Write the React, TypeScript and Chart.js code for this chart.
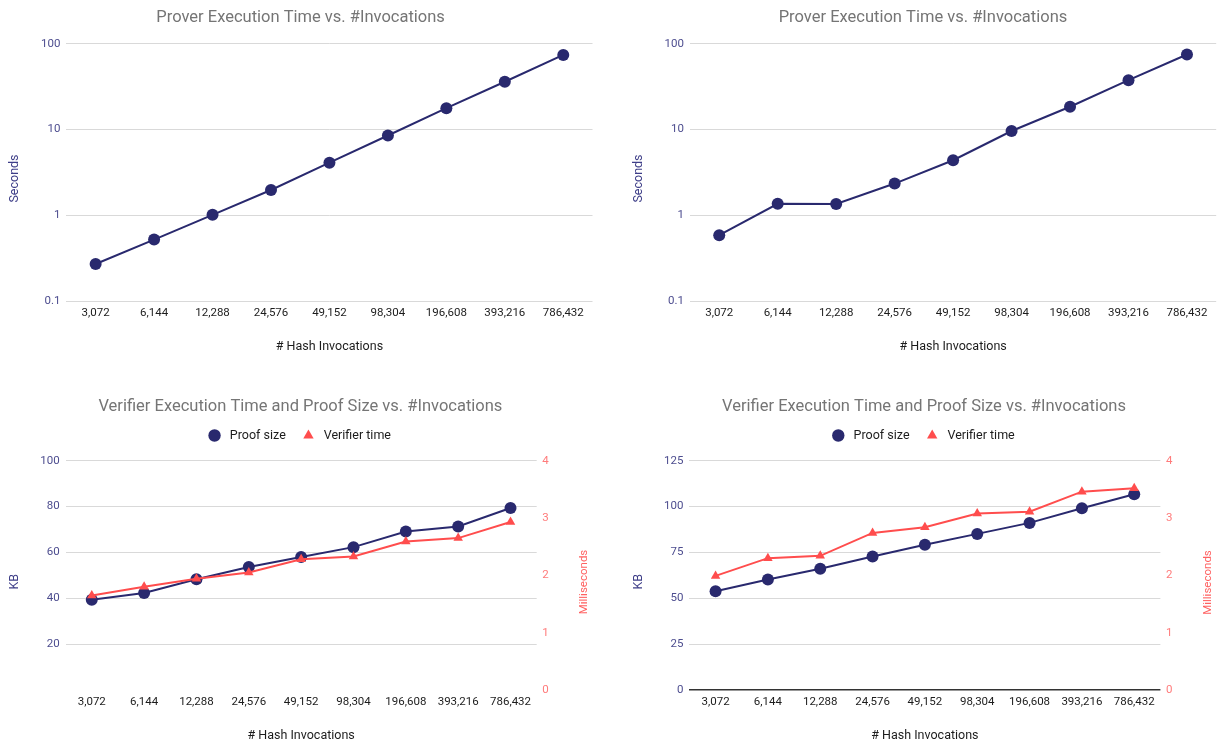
import React, { useEffect, useRef } from 'react';
import { Chart, registerables } from 'chart.js';

Chart.register(...registerables);

// ---- data ----
const invocations = ['3,072', '6,144', '12,288', '24,576', '49,152', '98,304', '196,608', '393,216', '786,432'];

// prover execution time in seconds (two runs)
const proverSecondsA = [0.27, 0.52, 1.01, 1.97, 4.1, 8.5, 17.7, 36, 74];
const proverSecondsB = [0.585, 1.36, 1.35, 2.34, 4.38, 9.6, 18.4, 37.6, 74.8];
const proverTicks = [0.1, 1, 10, 100];

// proof size (KB) and verifier time (ms) for the two runs
const proofSizeKbA = [39.4, 42.3, 48.3, 53.6, 58, 62.3, 69.1, 71.3, 79.4];
const verifierMsA = [1.65, 1.8, 1.94, 2.05, 2.28, 2.33, 2.59, 2.65, 2.93];
const proofSizeKbB = [53.8, 60.2, 66.1, 72.8, 79.2, 85.1, 91.1, 99.1, 106.7];
const verifierMsB = [1.99, 2.3, 2.34, 2.74, 2.84, 3.08, 3.11, 3.46, 3.52];

// ---- styling ----
const FONT = "Roboto, 'Liberation Sans', Arial, sans-serif";
const NAVY = '#29296e';
const RED = '#ff4d4d';
const GRID = '#d9d9d9';
const LEFT_TICK = '#4d4d8f';
const LEFT_TITLE = '#3e3e88';
const RIGHT_TICK = '#ff7b7b';
const RIGHT_TITLE = '#ff6161';
const DARK = '#1c1c1c';
const HEADING = '#757575';

Chart.defaults.font.family = FONT;

function rotatedText(ctx: any, text: string, x: number, y: number, font: string, color: string) {
  ctx.save();
  ctx.font = font;
  ctx.fillStyle = color;
  ctx.textAlign = 'center';
  ctx.textBaseline = 'middle';
  ctx.translate(x, y);
  ctx.rotate(-Math.PI / 2);
  ctx.fillText(text, 0, 0);
  ctx.restore();
}

// headings, axis captions and a custom legend
const panelDecor = {
  id: 'panelDecor',
  afterDraw(chart: any, _args: any, opts: any) {
    const { ctx, chartArea } = chart;
    ctx.save();
    ctx.font = `16.5px ${FONT}`;
    ctx.fillStyle = HEADING;
    ctx.textAlign = 'center';
    ctx.textBaseline = 'middle';
    ctx.fillText(opts.title, opts.titleX, opts.titleY);

    if (opts.legendY != null) {
      const items = chart.data.datasets.map((ds: any) => ({
        text: ds.label,
        color: ds.borderColor,
        style: ds.pointStyle || 'circle',
      }));
      ctx.font = `12.5px ${FONT}`;
      const markerR = 6.2;
      const toText = 15.3;
      const toNext = 22.7;
      const widths = items.map((it: any) => ctx.measureText(it.text).width);
      let total = markerR;
      widths.forEach((w: number, i: number) => {
        total += toText + w + (i < widths.length - 1 ? toNext : 0);
      });
      const center = (chartArea.left + chartArea.right) / 2 - 1.5;
      let x = center - total / 2 + markerR;
      const y = opts.legendY;
      items.forEach((it: any, i: number) => {
        ctx.fillStyle = it.color;
        ctx.beginPath();
        if (it.style === 'triangle') {
          const r = 6;
          ctx.moveTo(x, y - r);
          ctx.lineTo(x + 0.866 * r, y + 0.5 * r);
          ctx.lineTo(x - 0.866 * r, y + 0.5 * r);
          ctx.closePath();
        } else {
          ctx.arc(x, y, markerR, 0, Math.PI * 2);
        }
        ctx.fill();
        ctx.fillStyle = DARK;
        ctx.textAlign = 'left';
        ctx.fillText(it.text, x + toText, y);
        x += toText + widths[i] + toNext;
      });
    }
    ctx.restore();

    if (opts.leftTitle) {
      rotatedText(ctx, opts.leftTitle, opts.leftTitleX, opts.leftTitleY, `12.5px ${FONT}`, LEFT_TITLE);
    }
    if (opts.rightTitle) {
      rotatedText(ctx, opts.rightTitle, opts.rightTitleX, opts.rightTitleY, `11.5px ${FONT}`, RIGHT_TITLE);
    }
  },
};

type Plot = { left: number; right: number; top: number; bottom: number };

type PanelSpec = {
  left: number;
  top: number;
  width: number;
  height: number;
  plot: Plot;
  title: string;
  titleX: number;
  titleY: number;
  yTitleX: number;
  yTitleY: number;
  xTitlePad: number;
  build: (p: PanelSpec) => any;
  // verifier panels
  proof?: number[];
  verifier?: number[];
  kbMax?: number;
  kbStep?: number;
  zeroLine?: boolean;
  msX?: number;
  msY?: number;
  // prover panels
  seconds?: number[];
};

function xScale(p: PanelSpec) {
  return {
    type: 'category',
    offset: true,
    grid: { display: false, drawTicks: false },
    border: { display: false },
    ticks: { color: DARK, font: { family: FONT, size: 11.5 }, padding: 5, maxRotation: 0, autoSkip: false },
    title: {
      display: true,
      text: '# Hash Invocations',
      color: DARK,
      font: { family: FONT, size: 12.5 },
      padding: { top: 0, bottom: p.xTitlePad },
    },
    afterFit: (s: any) => {
      s.height = p.height - p.plot.bottom;
    },
  };
}

function proverConfig(p: PanelSpec) {
  return {
    type: 'line',
    data: {
      labels: invocations,
      datasets: [
        {
          label: 'Seconds',
          data: p.seconds,
          borderColor: NAVY,
          backgroundColor: NAVY,
          borderWidth: 2,
          pointRadius: 6,
          pointHoverRadius: 6,
          pointBorderWidth: 0,
          pointBackgroundColor: NAVY,
          tension: 0,
        },
      ],
    },
    options: {
      responsive: false,
      animation: false,
      layout: { padding: { top: p.plot.top, left: 0, right: p.width - p.plot.right, bottom: 0 } },
      plugins: {
        legend: { display: false },
        tooltip: { enabled: false },
        title: { display: false },
        panelDecor: {
          title: p.title,
          titleX: p.titleX,
          titleY: p.titleY,
          leftTitle: 'Seconds',
          leftTitleX: p.yTitleX,
          leftTitleY: p.yTitleY,
        },
      },
      scales: {
        x: xScale(p),
        y: {
          type: 'logarithmic',
          min: 0.1,
          max: 100,
          afterBuildTicks: (s: any) => {
            s.ticks = proverTicks.map((v) => ({ value: v }));
          },
          afterFit: (s: any) => {
            s.width = p.plot.left;
          },
          grid: { color: GRID, drawTicks: false },
          border: { display: false },
          ticks: {
            padding: 6,
            color: LEFT_TICK,
            font: { family: FONT, size: 11.5 },
            callback: (v: any) => String(v),
          },
        },
      },
    },
    plugins: [panelDecor],
  };
}

function verifierConfig(p: PanelSpec) {
  return {
    type: 'line',
    data: {
      labels: invocations,
      datasets: [
        {
          label: 'Proof size',
          data: p.proof,
          yAxisID: 'y',
          order: 1,
          borderColor: NAVY,
          backgroundColor: NAVY,
          borderWidth: 2,
          pointStyle: 'circle',
          pointRadius: 6,
          pointHoverRadius: 6,
          pointBorderWidth: 0,
          pointBackgroundColor: NAVY,
          tension: 0,
        },
        {
          label: 'Verifier time',
          data: p.verifier,
          yAxisID: 'y1',
          order: 0,
          borderColor: RED,
          backgroundColor: RED,
          borderWidth: 2,
          pointStyle: 'triangle',
          pointRadius: 5.5,
          pointHoverRadius: 5.5,
          pointBorderWidth: 0,
          pointBackgroundColor: RED,
          tension: 0,
        },
      ],
    },
    options: {
      responsive: false,
      animation: false,
      layout: { padding: { top: p.plot.top, left: 0, right: 0, bottom: 0 } },
      plugins: {
        legend: { display: false },
        tooltip: { enabled: false },
        title: { display: false },
        panelDecor: {
          title: p.title,
          titleX: p.titleX,
          titleY: p.titleY,
          legendY: 63.5,
          leftTitle: 'KB',
          leftTitleX: p.yTitleX,
          leftTitleY: p.yTitleY,
          rightTitle: 'Milliseconds',
          rightTitleX: p.msX,
          rightTitleY: p.msY,
        },
      },
      scales: {
        x: xScale(p),
        y: {
          type: 'linear',
          position: 'left',
          min: 0,
          max: p.kbMax,
          afterFit: (s: any) => {
            s.width = p.plot.left;
          },
          grid: {
            drawTicks: false,
            color: (c: any) =>
              c.tick && c.tick.value === 0 ? (p.zeroLine ? '#333333' : 'rgba(0,0,0,0)') : GRID,
            lineWidth: (c: any) => (c.tick && c.tick.value === 0 ? 1.5 : 1),
          },
          border: { display: false },
          ticks: {
            stepSize: p.kbStep,
            padding: 6,
            color: LEFT_TICK,
            font: { family: FONT, size: 11.5 },
            callback: (v: any) => (v === 0 && !p.zeroLine ? '' : String(v)),
          },
        },
        y1: {
          type: 'linear',
          position: 'right',
          min: 0,
          max: 4,
          afterFit: (s: any) => {
            s.width = p.width - p.plot.right;
          },
          grid: { display: false, drawTicks: false },
          border: { display: false },
          ticks: {
            stepSize: 1,
            padding: 5.5,
            color: RIGHT_TICK,
            font: { family: FONT, size: 11.5 },
          },
        },
      },
    },
    plugins: [panelDecor],
  };
}

const panels: PanelSpec[] = [
  {
    left: 0, top: 0, width: 612, height: 372,
    plot: { left: 66.4, right: 592.5, top: 43.7, bottom: 301 },
    title: 'Prover Execution Time vs. #Invocations', titleX: 300.6, titleY: 18,
    yTitleX: 14.5, yTitleY: 178.5, xTitlePad: 17.3,
    seconds: proverSecondsA, build: proverConfig,
  },
  {
    left: 612, top: 0, width: 613, height: 372,
    plot: { left: 78, right: 604.2, top: 43.7, bottom: 301 },
    title: 'Prover Execution Time vs. #Invocations', titleX: 311, titleY: 17.5,
    yTitleX: 27, yTitleY: 178.5, xTitlePad: 17.3,
    seconds: proverSecondsB, build: proverConfig,
  },
  {
    left: 0, top: 372, width: 612, height: 372,
    plot: { left: 65.6, right: 536.7, top: 88.7, bottom: 318 },
    title: 'Verifier Execution Time and Proof Size vs. #Invocations', titleX: 300.4, titleY: 34.5,
    yTitleX: 14.4, yTitleY: 209.7, xTitlePad: 1,
    proof: proofSizeKbA, verifier: verifierMsA, kbMax: 100, kbStep: 20, zeroLine: false,
    msX: 584.3, msY: 210, build: verifierConfig,
  },
  {
    left: 612, top: 372, width: 613, height: 372,
    plot: { left: 77.4, right: 548.4, top: 88.7, bottom: 318 },
    title: 'Verifier Execution Time and Proof Size vs. #Invocations', titleX: 312, titleY: 34.5,
    yTitleX: 26.5, yTitleY: 209.7, xTitlePad: 1,
    proof: proofSizeKbB, verifier: verifierMsB, kbMax: 125, kbStep: 25, zeroLine: true,
    msX: 596.3, msY: 210.5, build: verifierConfig,
  },
];

function ChartPanel({ spec }: { spec: PanelSpec }) {
  const ref = useRef<HTMLCanvasElement | null>(null);
  useEffect(() => {
    if (!ref.current) return;
    const chart = new Chart(ref.current, spec.build(spec));
    return () => chart.destroy();
  }, [spec]);
  return (
    <div style={{ position: 'absolute', left: spec.left, top: spec.top, width: spec.width, height: spec.height }}>
      <canvas ref={ref} width={spec.width} height={spec.height} style={{ display: 'block' }} />
    </div>
  );
}

export default function App() {
  return (
    <div style={{ position: 'absolute', left: 0, top: 0, width: 1225, height: 744, background: '#ffffff', overflow: 'hidden' }}>
      {panels.map((p, i) => (
        <ChartPanel key={i} spec={p} />
      ))}
    </div>
  );
}
